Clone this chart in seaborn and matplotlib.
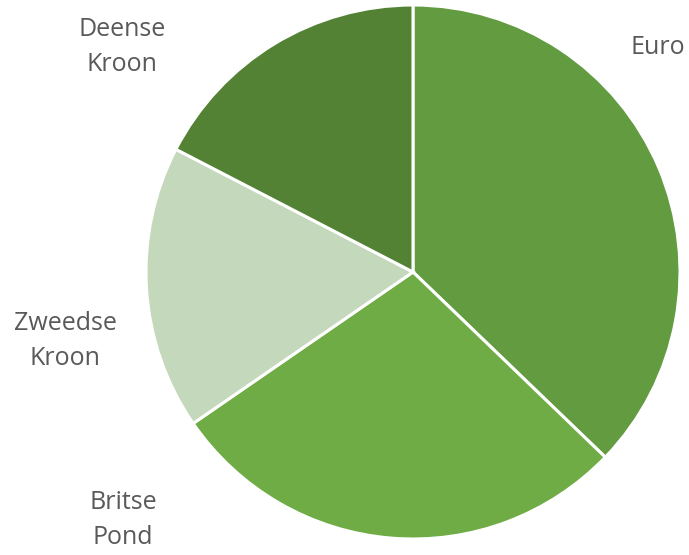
import matplotlib
matplotlib.use("Agg")
import matplotlib.pyplot as plt
import seaborn as sns

sns.set_theme(style="white")
plt.rcParams['font.family'] = ['Open Sans', 'DejaVu Sans']

categories = ["Euro", "Britse\nPond", "Zweedse\nKroon", "Deense\nKroon"]
values = [37.2, 28.2, 17.2, 17.4]
colors = ["#629B40", "#6FAC46", "#C4D8BB", "#548235"]

W, H = 689, 555
fig = plt.figure(figsize=(W / 100, H / 100), dpi=100)
cx, cy, r = 413, 272, 267
ax = fig.add_axes([(cx - r) / W, (H - cy - r) / H, 2 * r / W, 2 * r / H])
ax.pie(values, colors=colors, startangle=90, counterclock=False,
       radius=1.0, wedgeprops=dict(edgecolor="white", linewidth=2.2))
ax.set_xlim(-1, 1)
ax.set_ylim(-1, 1)
ax.set_aspect("equal")
ax.axis("off")

label_pos = [(658, 48), (123, 520), (65, 341), (122, 47)]
for lab, (x, y) in zip(categories, label_pos):
    fig.text(x / W, 1 - y / H, lab, ha="center", va="center",
             fontsize=18, color="#595959", linespacing=1.55)

fig.savefig("out.png", dpi=100, facecolor="white")
